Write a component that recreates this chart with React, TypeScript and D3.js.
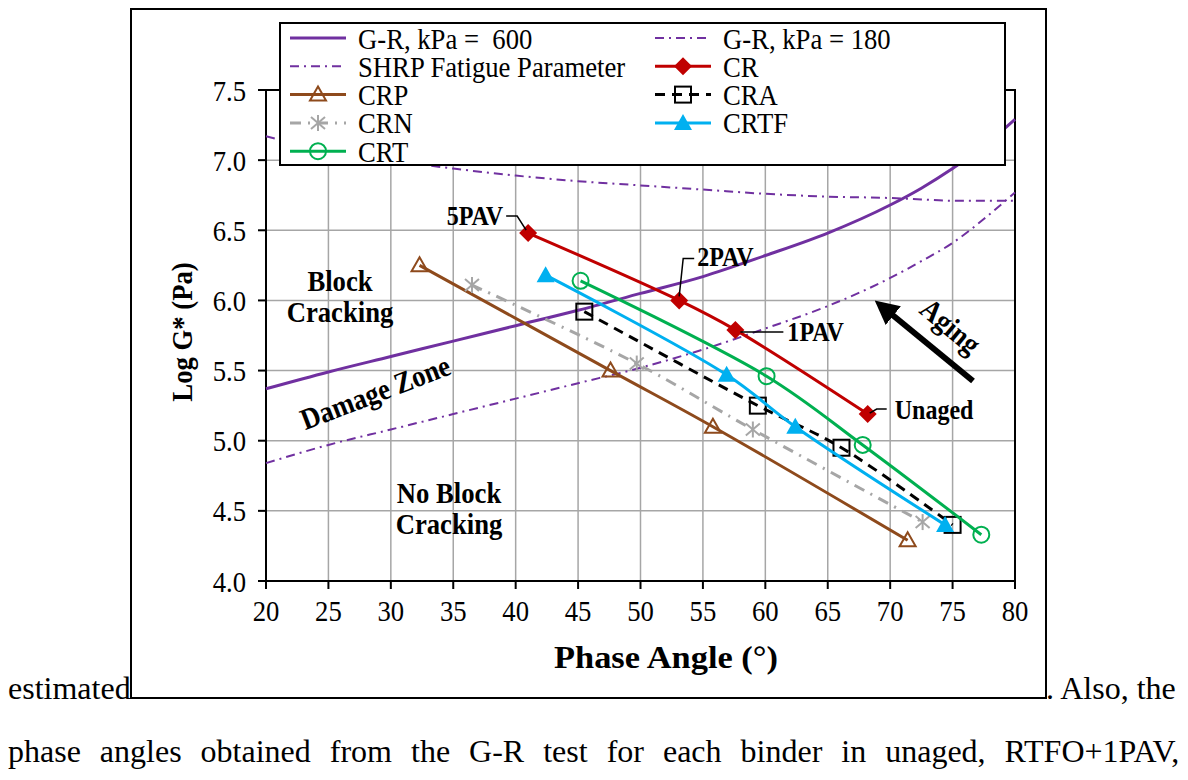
import * as d3 from "d3";

// chart values
const xTicks = [20, 25, 30, 35, 40, 45, 50, 55, 60, 65, 70, 75, 80];
const yTicks = [4.0, 4.5, 5.0, 5.5, 6.0, 6.5, 7.0, 7.5];

const grAngles = [20, 25, 30, 35, 40, 45, 50, 55, 60, 65, 70, 72.5, 75, 77.5, 80];
const gr600 = [5.37, 5.49, 5.6, 5.71, 5.82, 5.93, 6.05, 6.17, 6.32, 6.48, 6.68, 6.8, 6.94, 7.1, 7.29];
const gr180 = [4.84, 4.97, 5.08, 5.19, 5.3, 5.41, 5.52, 5.65, 5.8, 5.96, 6.16, 6.28, 6.41, 6.58, 6.77];
const shrp = [7.17, 7.07, 7.0, 6.94, 6.89, 6.85, 6.82, 6.79, 6.76, 6.74, 6.73, 6.72, 6.71, 6.71, 6.71];

const crX = [41.0, 53.1, 57.6, 68.2];
const crY = [6.48, 6.0, 5.79, 5.19];
const crpX = [32.3, 47.6, 55.8, 71.4];
const crpY = [6.25, 5.5, 5.1, 4.29];
const craX = [45.5, 59.4, 66.1, 75.0];
const craY = [5.92, 5.25, 4.95, 4.4];
const crnX = [36.5, 49.7, 59.0, 72.6];
const crnY = [6.11, 5.55, 5.08, 4.42];
const crtfX = [42.4, 56.9, 62.4, 74.4];
const crtfY = [6.18, 5.47, 5.1, 4.4];
const crtX = [45.2, 60.1, 67.8, 77.3];
const crtY = [6.14, 5.46, 4.97, 4.33];

const purple = "#7030A0";
const serif = "Liberation Serif";

const refLines = [
  { name: "G-R, kPa =\u00A0\u00A0600", ys: gr600, dash: null, width: 3 },
  { name: "G-R, kPa = 180", ys: gr180, dash: "9,5,2,5", width: 2 },
  { name: "SHRP Fatigue Parameter", ys: shrp, dash: "9,5,2,5", width: 2 },
];

const binders = [
  { name: "CR", xs: crX, ys: crY, color: "#C00000", dash: null, marker: "diamond" },
  { name: "CRP", xs: crpX, ys: crpY, color: "#8E4A1C", dash: null, marker: "triangleOpen" },
  { name: "CRA", xs: craX, ys: craY, color: "#000000", dash: "10,7", marker: "square" },
  { name: "CRN", xs: crnX, ys: crnY, color: "#A6A6A6", dash: "11,7,2,7", marker: "star" },
  { name: "CRTF", xs: crtfX, ys: crtfY, color: "#00B0F0", dash: null, marker: "triangle" },
  { name: "CRT", xs: crtX, ys: crtY, color: "#00B050", dash: null, marker: "circle" },
];

// the chart was squeezed sideways in the document, so its text is narrow
const squeeze = 0.89;

function CText({ x, y, size, anchor = "start", bold = false, rotate = 0, dy = undefined, children }) {
  return (
    <text
      transform={`translate(${x},${y}) rotate(${rotate}) scale(${squeeze},1)`}
      fontSize={size}
      fontWeight={bold ? "bold" : "normal"}
      textAnchor={anchor}
      dy={dy}
    >
      {children}
    </text>
  );
}

function Marker({ type, x, y, color }) {
  if (type === "diamond")
    return <path d={`M${x},${y - 9}L${x + 9},${y}L${x},${y + 9}L${x - 9},${y}Z`} fill={color} />;
  if (type === "triangle")
    return <path d={`M${x},${y - 9}L${x + 9},${y + 7}L${x - 9},${y + 7}Z`} fill={color} />;
  if (type === "triangleOpen")
    return <path d={`M${x},${y - 8}L${x + 8},${y + 6}L${x - 8},${y + 6}Z`} fill="none" stroke={color} strokeWidth={2} />;
  if (type === "square")
    return <rect x={x - 8} y={y - 8} width={16} height={16} fill="none" stroke={color} strokeWidth={2} />;
  if (type === "circle")
    return <circle cx={x} cy={y} r={8} fill="none" stroke={color} strokeWidth={2} />;
  // asterisk
  return (
    <g stroke={color} strokeWidth={2}>
      <line x1={x} y1={y - 8} x2={x} y2={y + 8} />
      <line x1={x - 7} y1={y - 6} x2={x + 7} y2={y + 6} />
      <line x1={x - 7} y1={y + 6} x2={x + 7} y2={y - 6} />
    </g>
  );
}

export default function App() {
  const x = d3.scaleLinear().domain([20, 80]).range([266, 1015]);
  const y = d3.scaleLinear().domain([4, 7.5]).range([581, 90]);
  const [x0, x1] = x.range();
  const [y0, y1] = y.range();

  const smooth = d3
    .line<[number, number]>()
    .x((d) => x(d[0]))
    .y((d) => y(d[1]))
    .curve(d3.curveCatmullRom.alpha(0.5));

  const refLine = d3
    .line<[number, number]>()
    .x((d) => x(d[0]))
    .y((d) => y(d[1]))
    .curve(d3.curveMonotoneX);

  // legend is filled row by row, two columns
  const legendItems = [
    { kind: "ref", i: 0 },
    { kind: "ref", i: 1 },
    { kind: "ref", i: 2 },
    { kind: "bin", i: 0 },
    { kind: "bin", i: 1 },
    { kind: "bin", i: 2 },
    { kind: "bin", i: 3 },
    { kind: "bin", i: 4 },
    { kind: "bin", i: 5 },
  ];

  return (
    <svg
      width={1188}
      height={780}
      style={{ position: "absolute", left: 0, top: 0, background: "#fff" }}
      fontFamily={serif}
    >
      {/* surrounding document text */}
      <text x={8} y={699} fontSize={32}>estimated</text>
      <text x={1046} y={699} fontSize={32}>. Also, the</text>
      <text x={8} y={762} fontSize={32} style={{ wordSpacing: "11px" }}>
        phase angles obtained from the G-R test for each binder in unaged, RTFO+1PAV,
      </text>

      {/* chart frame */}
      <rect x={131} y={9} width={915} height={689} fill="#fff" stroke="#000" strokeWidth={2} />

      {/* grid */}
      <g stroke="#A6A6A6" strokeWidth={1.5}>
        {xTicks.map((t) => (
          <line key={"gx" + t} x1={x(t)} x2={x(t)} y1={y0} y2={y1} />
        ))}
        {yTicks.map((t) => (
          <line key={"gy" + t} x1={x0} x2={x1} y1={y(t)} y2={y(t)} />
        ))}
      </g>
      <rect x={x0} y={y1} width={x1 - x0} height={y0 - y1} fill="none" stroke="#000" strokeWidth={2} />

      {/* axes ticks and labels */}
      <g stroke="#000" strokeWidth={2}>
        {yTicks.map((t) => (
          <line key={"ty" + t} x1={x0 - 8} x2={x0} y1={y(t)} y2={y(t)} />
        ))}
        {xTicks.map((t) => (
          <line key={"tx" + t} x1={x(t)} x2={x(t)} y1={y0} y2={y0 + 8} />
        ))}
      </g>
      <g fill="#000">
        {yTicks.map((t) => (
          <CText key={"ly" + t} x={x0 - 20} y={y(t)} dy="0.35em" size={30} anchor="end">
            {d3.format(".1f")(t)}
          </CText>
        ))}
        {xTicks.map((t) => (
          <CText key={"lx" + t} x={x(t)} y={y0 + 40} size={30} anchor="middle">
            {t}
          </CText>
        ))}
      </g>
      <text x={666} y={668} fontSize={31} fontWeight="bold" textAnchor="middle" textLength={224} lengthAdjust="spacingAndGlyphs">
        Phase Angle (°)
      </text>
      <CText x={192} y={332} size={30} bold anchor="middle" rotate={-90}>
        Log G* (Pa)
      </CText>

      {/* region labels */}
      <CText x={340} y={291} size={30} bold anchor="middle">Block</CText>
      <CText x={340} y={322} size={30} bold anchor="middle">Cracking</CText>
      <CText x={449} y={503} size={30} bold anchor="middle">No Block</CText>
      <CText x={449} y={534} size={30} bold anchor="middle">Cracking</CText>
      <CText x={379} y={402} size={30} bold anchor="middle" rotate={-21}>Damage Zone</CText>

      {/* reference curves */}
      {refLines.map((r) => (
        <path
          key={r.name}
          d={refLine(grAngles.map((a, i) => [a, r.ys[i]]))}
          fill="none"
          stroke={purple}
          strokeWidth={r.width}
          strokeDasharray={r.dash ?? undefined}
        />
      ))}

      {/* binder series */}
      {binders.map((b) => (
        <g key={b.name}>
          <path
            d={smooth(b.xs.map((v, i) => [v, b.ys[i]]))}
            fill="none"
            stroke={b.color}
            strokeWidth={3}
            strokeDasharray={b.dash ?? undefined}
          />
          {b.xs.map((v, i) => (
            <Marker key={i} type={b.marker} x={x(v)} y={y(b.ys[i])} color={b.color} />
          ))}
        </g>
      ))}

      {/* aging annotations */}
      <g stroke="#000" strokeWidth={1.5} fill="none">
        <path d={`M${x(crX[0]) - 22},${y(crY[0]) - 17}L${x(crX[0]) - 11},${y(crY[0]) - 17}L${x(crX[0]) - 2},${y(crY[0]) - 3}`} />
        <path d={`M${x(crX[1])},${y(crY[1]) - 4}L${x(crX[1]) + 4},${y(crY[1]) - 42}L${x(crX[1]) + 15},${y(crY[1]) - 42}`} />
        <path d={`M${x(crX[2]) + 5},${y(crY[2]) + 2}L${x(crX[2]) + 48},${y(crY[2]) + 2}`} />
        <path d={`M${x(crX[3]) + 2},${y(crY[3]) - 1}L${x(crX[3]) + 9},${y(crY[3]) - 5}L${x(crX[3]) + 19},${y(crY[3]) - 5}`} />
      </g>
      <CText x={x(crX[0]) - 25} y={y(crY[0]) - 8} size={27} bold anchor="end">5PAV</CText>
      <CText x={x(crX[1]) + 18} y={y(crY[1]) - 34} size={27} bold>2PAV</CText>
      <CText x={x(crX[2]) + 52} y={y(crY[2]) + 11} size={27} bold>1PAV</CText>
      <CText x={x(crX[3]) + 27} y={y(crY[3]) + 5} size={27} bold>Unaged</CText>
      <defs>
        <marker id="arrowHead" viewBox="0 0 10 10" refX="5" refY="5" markerWidth="4" markerHeight="4" orient="auto">
          <path d="M0,0L10,5L0,10Z" fill="#000" />
        </marker>
      </defs>
      <line x1={973} y1={381} x2={884} y2={308} stroke="#000" strokeWidth={6} markerEnd="url(#arrowHead)" />
      <CText x={944} y={334} size={30} bold anchor="middle" rotate={40}>Aging</CText>

      {/* legend */}
      <rect x={280} y={23} width={725} height={142} fill="#fff" stroke="#000" strokeWidth={2} />
      {legendItems.map((it, k) => {
        const col = k % 2;
        const row = Math.floor(k / 2);
        const lx = col === 0 ? 290 : 655;
        const cy = 38 + row * 28.3;
        const isRef = it.kind === "ref";
        const item = isRef ? refLines[it.i] : binders[it.i];
        const color = isRef ? purple : (item as any).color;
        return (
          <g key={item.name}>
            <line
              x1={lx}
              x2={lx + 56}
              y1={cy}
              y2={cy}
              stroke={color}
              strokeWidth={isRef ? (item as any).width : 3}
              strokeDasharray={item.dash ?? undefined}
            />
            {!isRef && <Marker type={(item as any).marker} x={lx + 28} y={cy} color={color} />}
            <CText x={lx + 68} y={cy} dy="0.35em" size={30}>
              {item.name}
            </CText>
          </g>
        );
      })}
    </svg>
  );
}
